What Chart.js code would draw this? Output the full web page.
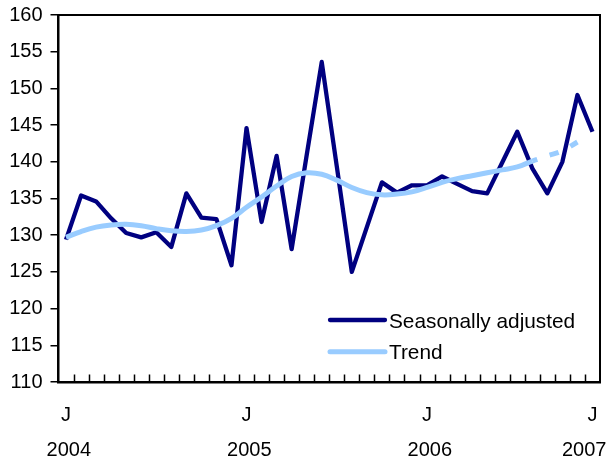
<!DOCTYPE html>
<html lang="en">
<head>
  <meta charset="UTF-8"/>
  <title>Seasonally adjusted and trend</title>
  <script src="https://cdn.jsdelivr.net/npm/chart.js"></script>
  <style>
    body{margin:0;padding:0;background:#fff;}
    #wrap{width:611px;height:459px;}
  </style>
</head>
<body>
<div id="wrap"><canvas id="chart" width="611" height="459"></canvas></div>

<script>
  // Data (monthly, Jan 2004 - Dec 2006)
  const monthNames=['Jan','Feb','Mar','Apr','May','Jun','Jul','Aug','Sep','Oct','Nov','Dec'];
  const years=['2004','2005','2006'];
  const labels=[];
  years.forEach(y=>monthNames.forEach(m=>labels.push(m+' '+y)));

  const seasonal=[129.4,135.4,134.6,132.3,130.3,129.7,130.4,128.4,135.7,132.4,132.2,125.9,
                  144.6,131.8,140.8,128.1,140.9,153.6,139.4,125.0,131.1,137.2,135.8,136.8,
                  136.8,138.0,137.0,136.0,135.7,139.9,144.1,139.1,135.7,140.0,149.1,144.1];
  const trend=[129.7,130.5,131.1,131.4,131.5,131.3,130.9,130.6,130.5,130.7,131.3,132.3,
               133.8,135.2,136.7,138.0,138.5,138.3,137.5,136.5,135.8,135.5,135.6,135.9,
               136.5,137.2,137.7,138.1,138.5,138.9,139.3,140.1,140.8,141.5,142.7];
  const trendDashFrom=31; // last months of trend are provisional (dashed)

  // x tick labels: "J" plus year under it
  const tickLetters={0:'J',12:'J',24:'J',35:'J'};
  const tickYears={0:' 2004',12:' 2005',24:' 2006',35:'2007   '};
  const yMin=110, yMax=160, yStep=5;

  const font={family:"'Liberation Sans', Arial, sans-serif",size:20};

  // frame + inner x tick marks + legend inside plot
  const frame={
    id:'frame',
    afterDatasetsDraw(chart){
      const {ctx,chartArea:a,scales:{x}}=chart;
      ctx.save();
      ctx.strokeStyle='#000';
      ctx.lineWidth=2;
      ctx.beginPath();
      ctx.moveTo(a.left,a.top);ctx.lineTo(a.right,a.top);ctx.lineTo(a.right,a.bottom);
      ctx.stroke();
      ctx.lineWidth=1.5;
      ctx.beginPath();
      for(let i=1;i<labels.length;i++){
        const px=Math.round((x.getPixelForValue(i-1)+x.getPixelForValue(i))/2)+0.5;
        ctx.moveTo(px,a.bottom);ctx.lineTo(px,a.bottom-7.5);
      }
      ctx.stroke();
      // legend
      ctx.font=`20.8px ${font.family}`;
      ctx.fillStyle='#000';
      ctx.textBaseline='alphabetic';
      chart.data.datasets.forEach((ds,i)=>{
        const y=320+i*31.7;
        ctx.strokeStyle=ds.borderColor;
        ctx.lineWidth=ds.borderWidth;
        ctx.lineCap='round';
        ctx.beginPath();ctx.moveTo(330,y);ctx.lineTo(385,y);ctx.stroke();
        ctx.fillText(ds.label,389,y+7.5);
      });
      ctx.restore();
    }
  };

  new Chart(document.getElementById('chart'),{
    type:'line',
    data:{
      labels:labels,
      datasets:[
        {label:'Seasonally adjusted',data:seasonal,borderColor:'#000080',borderWidth:4.3,
         pointRadius:0,tension:0,borderJoinStyle:'round',order:2},
        {label:'Trend',data:trend,borderColor:'#99CCFF',borderWidth:5,pointRadius:0,
         tension:0.4,order:1,
         segment:{
           borderDash:c=>c.p0DataIndex>=trendDashFrom?[10,13]:undefined,
           borderDashOffset:c=>c.p0DataIndex>=trendDashFrom?5:undefined
         }}
      ]
    },
    options:{
      responsive:false,
      animation:false,
      devicePixelRatio:1,
      layout:{padding:{top:15,right:11,left:0,bottom:0}},
      plugins:{legend:{display:false},tooltip:{enabled:false}},
      scales:{
        x:{
          type:'category',
          offset:true,
          grid:{display:false,drawTicks:false},
          border:{display:true,color:'#000',width:2.5},
          ticks:{
            autoSkip:false,maxRotation:0,minRotation:0,padding:15.5,color:'#000',
            font:{...font,lineHeight:1.75},
            callback:(v,i)=>tickLetters[i]!==undefined?[tickLetters[i],tickYears[i]]:''
          },
          afterFit(s){s.height=77;s.paddingLeft=0;s.paddingRight=0;}
        },
        y:{
          min:yMin,max:yMax,
          grid:{drawOnChartArea:false,drawTicks:true,tickLength:8,color:'#000',lineWidth:1.5},
          border:{display:true,color:'#000',width:2.5},
          ticks:{stepSize:yStep,padding:8,color:'#000',font:font},
          afterFit(s){s.width=58.5;s.paddingTop=0;s.paddingBottom=0;}
        }
      }
    },
    plugins:[frame]
  });
</script>
</body>
</html>
